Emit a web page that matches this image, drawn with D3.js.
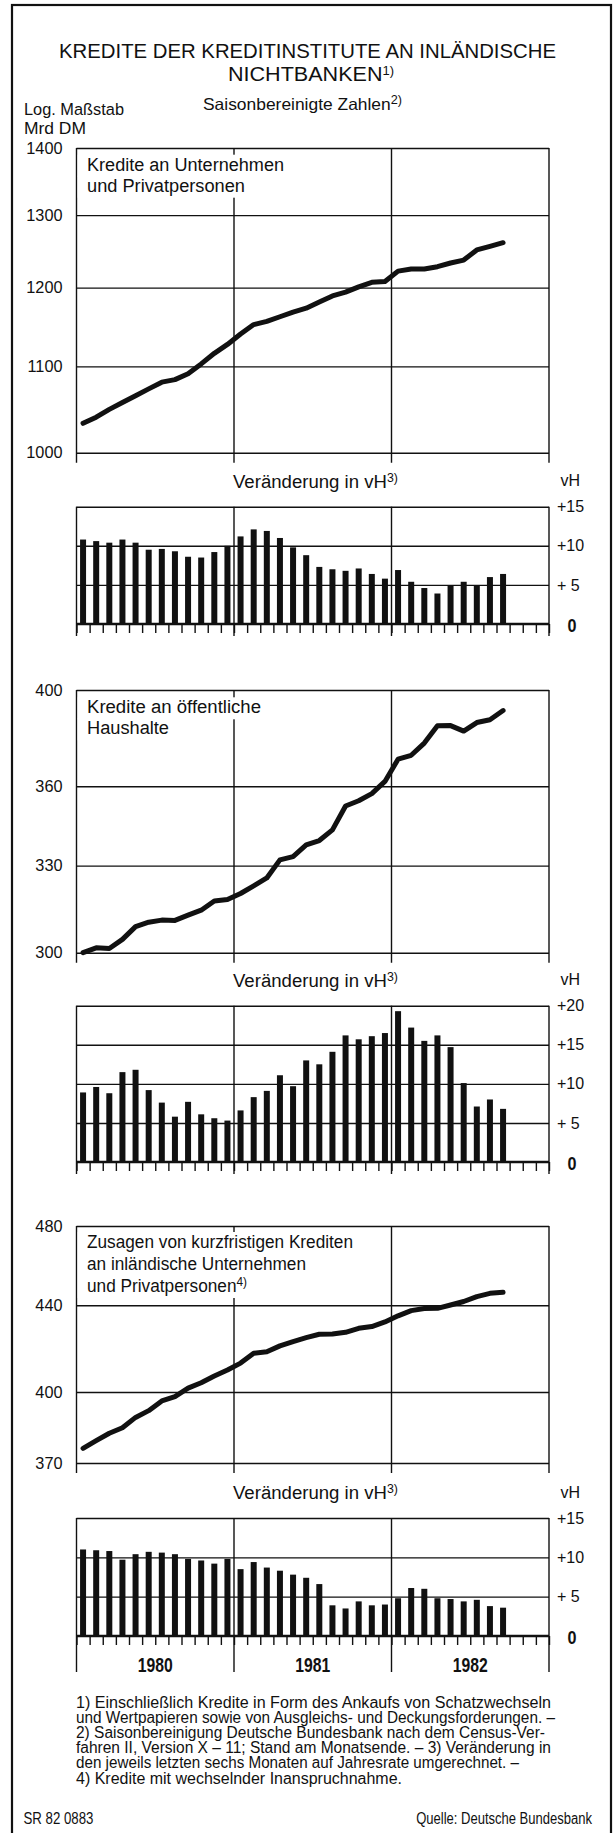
<!DOCTYPE html>
<html>
<head>
<meta charset="utf-8">
<script src="https://cdn.jsdelivr.net/npm/d3@7"></script>
<style>
  html, body { margin: 0; padding: 0; background: #fff; }
  svg { display: block; }
  text { font-family: "Liberation Sans", Arial, Helvetica, sans-serif; fill: #111; }
</style>
</head>
<body>
<svg id="chart" width="613" height="1833"></svg>
<script>
// ---- Data: monthly figures Jan 1980 – Sep 1982 (Mrd DM, seasonally adjusted) ----
const years = ["1980", "1981", "1982"];
const months = d3.timeMonth.range(new Date(1980, 0, 1), new Date(1983, 0, 1)).map(d3.timeFormat("%b %Y"));

// Kredite an Unternehmen und Privatpersonen (Mrd DM, log scale)
const creditsEnterprises = [1033, 1040, 1049, 1057, 1065, 1073, 1081, 1084, 1091, 1103, 1116, 1127,
  1140, 1152, 1156, 1162, 1168, 1173, 1181, 1189, 1194, 1201, 1207, 1208,
  1222, 1225, 1225, 1228, 1233, 1237, 1251, 1256, 1261];
// Veränderung in vH
const growthEnterprises = [10.8, 10.6, 10.4, 10.8, 10.4, 9.5, 9.6, 9.3, 8.6, 8.5, 9.2, 10.0,
  11.2, 12.1, 11.9, 11.0, 9.8, 8.8, 7.3, 7.0, 6.8, 7.1, 6.4, 5.8,
  6.9, 5.4, 4.6, 3.9, 4.9, 5.4, 4.9, 6.0, 6.4];

// Kredite an öffentliche Haushalte
const publicCredits = [300.0, 301.6, 301.4, 304.4, 308.7, 310.2, 310.9, 310.8, 312.6, 314.3, 317.5, 318.0,
  320.1, 322.8, 325.6, 332.1, 333.3, 337.6, 339.2, 343.2, 352.3, 354.3, 357.1, 361.9,
  370.8, 372.4, 377.4, 384.6, 384.7, 382.4, 386.0, 387.2, 391.1];
const growthPublic = [8.9, 9.6, 8.8, 11.5, 11.8, 9.2, 7.6, 5.8, 7.7, 6.1, 5.6, 5.3,
  6.6, 8.3, 9.1, 11.1, 9.7, 13.0, 12.5, 14.1, 16.2, 15.7, 16.1, 16.5,
  19.3, 17.2, 15.5, 16.2, 14.7, 10.1, 7.1, 8.0, 6.8];

// Zusagen von kurzfristigen Krediten an inländische Unternehmen und Privatpersonen
const shortTermCommitments = [376.0, 379.2, 382.3, 384.6, 389.0, 391.9, 396.1, 398.0, 401.7, 404.1, 407.1, 409.8,
  412.9, 417.4, 418.1, 420.8, 422.8, 424.6, 426.2, 426.3, 427.1, 429.0, 429.8, 432.0,
  434.9, 437.4, 438.4, 438.5, 440.1, 441.8, 444.2, 445.8, 446.3];
const growthShortTerm = [11.0, 10.9, 10.8, 9.7, 10.4, 10.7, 10.6, 10.4, 9.8, 9.6, 9.2, 9.8,
  8.5, 9.4, 8.7, 8.3, 7.8, 7.4, 6.6, 3.9, 3.5, 4.4, 3.9, 4.0,
  4.8, 6.1, 6.0, 4.8, 4.7, 4.4, 4.6, 3.8, 3.6];

// Axis ticks
const levelTicks1 = [1000, 1100, 1200, 1300, 1400];
const levelTicks2 = [300, 330, 360, 400];
const levelTicks3 = [370, 400, 440, 480];
const growthTicks1 = [0, 5, 10, 15];
const growthTicks2 = [0, 5, 10, 15, 20];
const growthTicks3 = [0, 5, 10, 15];

// ---- Layout ----
const ink = "#111";
const X0 = 76.5, X1 = 549;
const LABEL_X = 87;
const svg = d3.select("#chart");

const x = d3.scaleBand().domain(months).range([X0, X1]);
const xm = d3.scaleLinear().domain([0, months.length]).range([X0, X1]);   // month boundaries
const yearEdges = d3.range(0, months.length + 1, 12);
const cx = i => x(months[i]) + x.bandwidth() / 2;

// text helper; o.sup adds a raised footnote marker inside the same text element
function txt(g, s, px, py, o = {}) {
  const t = g.append("text").attr("x", px).attr("y", py)
    .style("font-size", (o.size || 16) + "px");
  t.append("tspan").text(s);
  if (o.sup) t.append("tspan").attr("dy", -6).style("font-size", "12px").text(o.sup);
  if (o.weight) t.style("font-weight", o.weight);
  if (o.anchor) t.attr("text-anchor", o.anchor);
  if (o.width) t.attr("textLength", o.width).attr("lengthAdjust", "spacingAndGlyphs");
  return t;
}

// Outer frame
svg.append("rect").attr("x", 12).attr("y", 5).attr("width", 599).attr("height", 1850)
  .attr("fill", "none").attr("stroke", ink).attr("stroke-width", 2.2);

// Headings
txt(svg, "KREDITE DER KREDITINSTITUTE AN INLÄNDISCHE", 59, 58, { size: 20, width: 497 });
txt(svg, "NICHTBANKEN", 228, 81, { size: 20, width: 166, sup: "1)" });
txt(svg, "Saisonbereinigte Zahlen", 203, 110, { size: 16.5, width: 199, sup: "2)" });
txt(svg, "Log. Maßstab", 24, 115, { size: 16.3, width: 100 });
txt(svg, "Mrd DM", 24, 133.5, { size: 16.3, width: 62 });

// ---- Level panels (log scale lines) ----
const linePanels = [
  { values: creditsEnterprises, ticks: levelTicks1, top: 148, bottom: 452.7, labelSize: 18,
    label: [["Kredite an Unternehmen", 197], ["und Privatpersonen", 158]], labelY: [170.7, 191.7] },
  { values: publicCredits, ticks: levelTicks2, top: 690, bottom: 952.7, labelSize: 18,
    label: [["Kredite an öffentliche", 174], ["Haushalte", 82]], labelY: [713.3, 734.3] },
  { values: shortTermCommitments, ticks: levelTicks3, top: 1226, bottom: 1463, labelSize: 17.5,
    label: [["Zusagen von kurzfristigen Krediten", 266], ["an inländische Unternehmen", 219], ["und Privatpersonen", 160, "4)"]],
    labelY: [1248, 1270, 1292] }
];

linePanels.forEach(p => {
  const y = d3.scaleLog().domain([p.ticks[0], p.ticks[p.ticks.length - 1]]).range([p.bottom, p.top]);
  const g = svg.append("g");

  const ga = g.append("g").attr("transform", `translate(${X0},0)`)
    .call(d3.axisLeft(y).tickValues(p.ticks).tickFormat(d3.format("d")).tickSize(-(X1 - X0)).tickPadding(14));
  ga.select(".domain").remove();
  ga.selectAll(".tick line").attr("stroke", ink).attr("stroke-width", 1.4);
  ga.selectAll(".tick text").attr("fill", ink).style("font-size", "16.3px");

  // frame sides and year separators, reaching a little below the bottom
  g.selectAll("line.yr").data(yearEdges).join("line")
    .attr("x1", d => xm(d)).attr("x2", d => xm(d))
    .attr("y1", p.top).attr("y2", p.bottom + 10)
    .attr("stroke", ink).attr("stroke-width", 1.4);

  // series title on a white ground
  p.label.forEach(([s, w], k) => {
    const by = p.labelY[k];
    g.append("rect").attr("x", X0 + 1.2).attr("y", by - 16).attr("height", 22)
      .attr("width", LABEL_X - X0 + w + 3).attr("fill", "#fff");
  });
  p.label.forEach(([s, w, sp], k) => {
    txt(g, s, LABEL_X, p.labelY[k], { size: p.labelSize, width: w, sup: sp });
  });

  g.append("path").datum(p.values)
    .attr("d", d3.line().x((d, i) => cx(i)).y(d => y(d)))
    .attr("fill", "none").attr("stroke", ink).attr("stroke-width", 5)
    .attr("stroke-linejoin", "round").attr("stroke-linecap", "round");
});

// ---- Growth panels (bars) ----
const barPanels = [
  { values: growthEnterprises, ticks: growthTicks1, top: 506.7, bottom: 624, yearTick: 12 },
  { values: growthPublic, ticks: growthTicks2, top: 1005.7, bottom: 1162, yearTick: 12 },
  { values: growthShortTerm, ticks: growthTicks3, top: 1518, bottom: 1636, yearTick: 36 }
];
const fmtGrowth = v => v === 0 ? "0" : (v < 10 ? "+ " + v : "+" + v);

barPanels.forEach(p => {
  const y = d3.scaleLinear().domain([0, p.ticks[p.ticks.length - 1]]).range([p.bottom, p.top]);
  const g = svg.append("g");

  txt(g, "Veränderung in vH", 233, p.top - 19, { size: 18, width: 165, sup: "3)" });
  txt(g, "vH", 560.5, p.top - 20.5, { size: 16 });

  // horizontal rules
  const gg = g.append("g").attr("transform", `translate(${X0},0)`)
    .call(d3.axisLeft(y).tickValues(p.ticks.slice(1)).tickSize(-(X1 - X0)));
  gg.select(".domain").remove();
  gg.selectAll(".tick text").remove();
  gg.selectAll(".tick line").attr("stroke", ink).attr("stroke-width", 1.4);

  // month ticks below the zero line
  const gm = g.append("g").attr("transform", `translate(0,${p.bottom})`)
    .call(d3.axisBottom(xm).tickValues(d3.range(months.length + 1)).tickSize(9));
  gm.select(".domain").remove();
  gm.selectAll(".tick text").remove();
  gm.selectAll(".tick line").attr("stroke", ink).attr("stroke-width", 1.4);

  // frame sides and year separators
  g.selectAll("line.yr").data(yearEdges).join("line")
    .attr("x1", d => xm(d)).attr("x2", d => xm(d))
    .attr("y1", p.top).attr("y2", p.bottom + p.yearTick)
    .attr("stroke", ink).attr("stroke-width", 1.4);

  // bars
  g.selectAll("rect.bar").data(p.values).join("rect")
    .attr("x", (d, i) => cx(i) - 3).attr("width", 6)
    .attr("y", d => y(d)).attr("height", d => y(0) - y(d))
    .attr("fill", ink);

  // zero line
  g.append("line").attr("x1", X0).attr("x2", X1).attr("y1", y(0)).attr("y2", y(0))
    .attr("stroke", ink).attr("stroke-width", 2.6);

  // right-hand scale
  const gr = g.append("g").attr("transform", `translate(${X1},0)`)
    .call(d3.axisRight(y).tickValues(p.ticks).tickFormat(fmtGrowth).tickSize(0).tickPadding(8));
  gr.select(".domain").remove();
  gr.selectAll(".tick text").attr("fill", ink).style("font-size", "16px");
  gr.selectAll(".tick text").filter(d => d === 0)
    .attr("x", 18.5).attr("dy", "0.38em")
    .style("font-size", "19px").style("font-weight", "bold")
    .attr("textLength", 9).attr("lengthAdjust", "spacingAndGlyphs");
});

// Year labels under the last panel
years.forEach((yr, k) => {
  txt(svg, yr, (xm(k * 12) + xm(k * 12 + 12)) / 2, 1672,
    { size: 20, weight: "bold", anchor: "middle", width: 35 });
});

// Footnotes
const notes = [
  ["1) Einschließlich Kredite in Form des Ankaufs von Schatzwechseln", 475],
  ["und Wertpapieren sowie von Ausgleichs- und Deckungsforderungen. –", 479],
  ["2) Saisonbereinigung Deutsche Bundesbank nach dem Census-Ver-", 469],
  ["fahren II, Version X – 11; Stand am Monatsende. – 3) Veränderung in", 475],
  ["den jeweils letzten sechs Monaten auf Jahresrate umgerechnet. –", 443],
  ["4) Kredite mit wechselnder Inanspruchnahme.", 326]
];
notes.forEach(([s, w], k) => txt(svg, s, 76, 1708 + k * 15.1, { size: 16, width: w }));

// Bottom line: code number and source, set in a narrowed face
function narrowText(s, px, py, w, anchor) {
  const t = svg.append("text").attr("text-anchor", anchor).style("font-size", "16px").text(s);
  const nat = t.node().getComputedTextLength();
  t.attr("transform", `translate(${px},${py}) scale(${w / nat},1)`);
  return t;
}
narrowText("SR 82 0883", 23.5, 1824, 70, "start");
narrowText("Quelle: Deutsche Bundesbank", 592, 1824, 176, "end");
</script>
</body>
</html>
